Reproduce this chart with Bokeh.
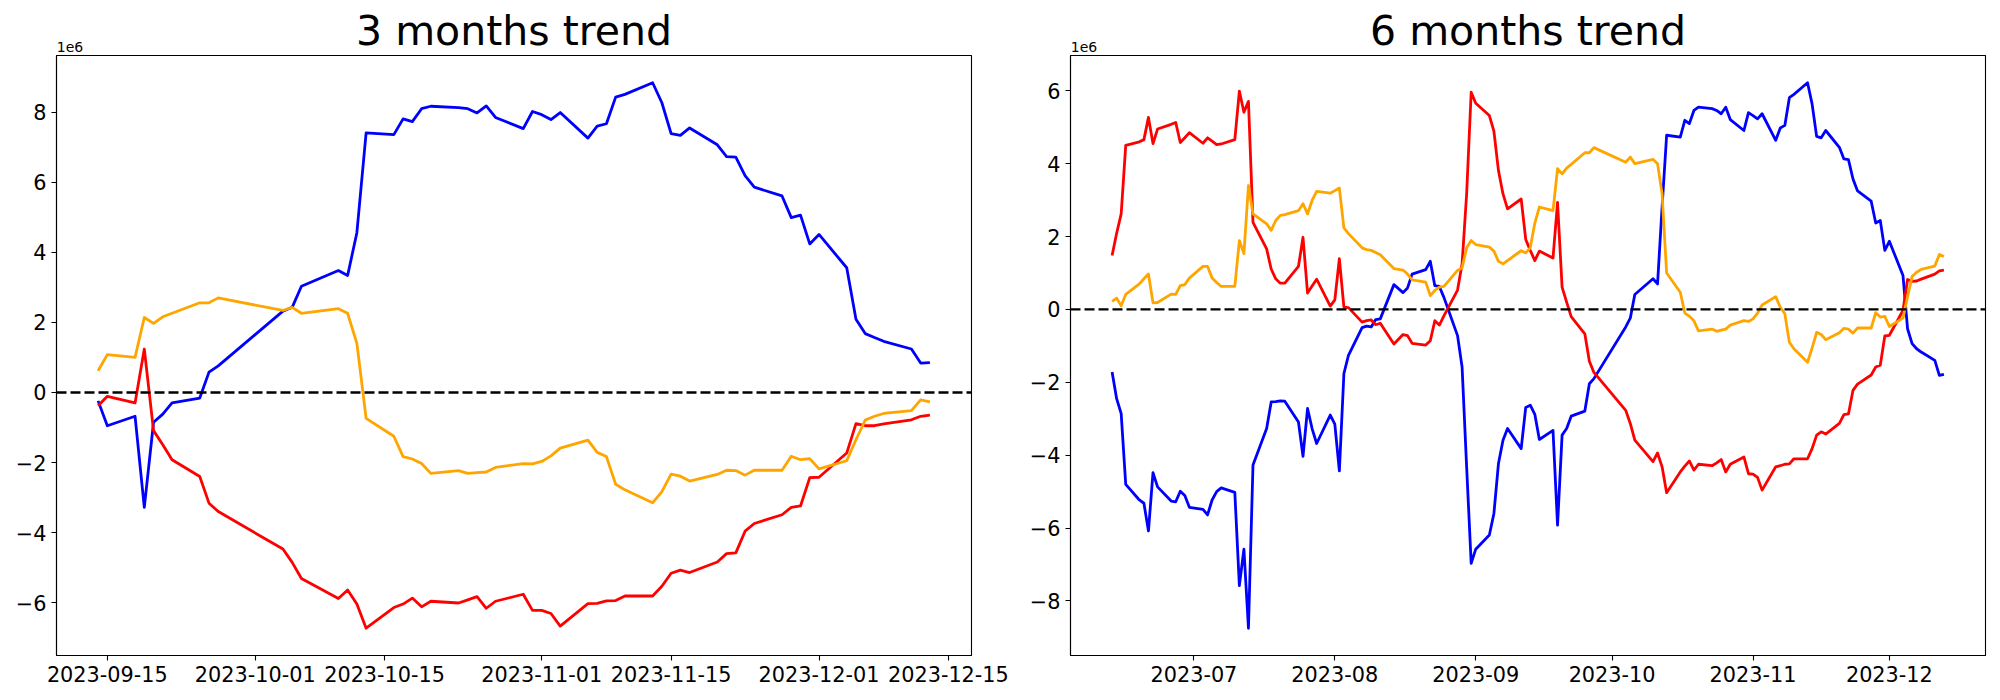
import pandas as pd
from bokeh.plotting import figure
from bokeh.layouts import row
from bokeh.models import (Range1d, FixedTicker, CustomJSTickFormatter, Span, LinearAxis,
                          ColumnDataSource)
from bokeh.embed import file_html
from bokeh.resources import INLINE

# ---------------- data (values in units of 1e6) ----------------
holidays = ["2023-08-15", "2023-09-28", "2023-09-29", "2023-10-02", "2023-10-03", "2023-10-09"]


def trading_days(start, end):
    d = pd.bdate_range(start, end)
    return d[~d.isin(pd.to_datetime(holidays))]


dates_3m = trading_days("2023-09-14", "2023-12-13")
dates_6m = trading_days("2023-06-13", "2023-12-13")

blue_3m = [-0.24, -0.95, -0.68, -3.28, -0.85, -0.62, -0.30, -0.16, 0.58, 0.76,
           2.32, 2.43, 3.03, 3.48, 3.34, 4.56, 7.41, 7.36, 7.81, 7.73, 8.10, 8.17, 8.13, 8.10,
           7.98, 8.18, 7.85, 7.53, 8.02,
           7.93, 7.79, 7.99, 7.26, 7.60, 7.67, 8.43, 8.51, 8.84, 8.27, 7.39, 7.34, 7.55, 7.07,
           6.73, 6.72, 6.19, 5.86, 5.61, 4.99, 5.06, 4.24,
           4.51, 3.56, 2.09, 1.68, 1.57, 1.46, 1.24, 0.84, 0.85]
red_3m = [-0.38, -0.11, -0.30, 1.24, -1.09, -1.49, -1.92, -2.40, -3.16, -3.40,
          -4.47, -4.85, -5.31, -5.88, -5.64, -6.04, -6.73, -6.14, -6.04, -5.87, -6.12, -5.96,
          -6.01, -5.92, -5.83, -6.16, -5.96, -5.76, -6.22,
          -6.22, -6.31, -6.67, -6.03, -6.02, -5.95, -5.94, -5.81, -5.81, -5.53, -5.16, -5.07,
          -5.14, -4.84, -4.60, -4.58, -3.96, -3.74, -3.49, -3.28, -3.24, -2.43,
          -2.42, -1.73, -0.89, -0.95, -0.95, -0.90, -0.78, -0.68, -0.65]
orange_3m = [0.62, 1.08, 1.00, 2.14, 1.97, 2.16, 2.26, 2.56, 2.56, 2.70,
             2.34, 2.43, 2.26, 2.39, 2.26, 1.40, -0.74, -1.25, -1.83, -1.90, -2.03, -2.31,
             -2.23, -2.31, -2.29, -2.27, -2.14, -2.03, -2.04,
             -1.97, -1.81, -1.59, -1.36, -1.71, -1.83, -2.62, -2.78, -3.15, -2.83, -2.33, -2.39,
             -2.53, -2.34, -2.22, -2.23, -2.36, -2.22, -2.22, -1.82, -1.92, -1.89,
             -2.18, -1.95, -1.35, -0.79, -0.68, -0.60, -0.52, -0.21, -0.27]

blue_6m = [-1.72, -2.45, -2.86, -4.80, -5.23, -5.32, -6.08, -4.48, -4.87, -5.26, -5.28, -4.99, -5.11, -5.43,
           -5.49, -5.64, -5.23, -5.00, -4.90, -5.02, -7.58, -6.58, -8.75, -4.27, -3.27, -2.54, -2.53,
           -2.51, -2.52, -3.09, -4.03, -2.72, -3.27, -3.68, -2.90,
           -3.15, -4.43, -1.76, -1.26, -0.50, -0.46, -0.48, -0.28, -0.26, 0.68, 0.46, 0.59, 0.97,
           1.09, 1.32, 0.65, 0.63, 0.33, -0.72, -1.58, -4.32, -6.97,
           -6.58, -6.19, -5.60, -4.23, -3.59, -3.27, -3.82, -2.69, -2.63, -2.88, -3.57, -3.32,
           -5.92, -3.45, -3.27, -2.93, -2.79, -2.04, -1.90,
           -0.48, -0.24, 0.41, 0.84, 0.70, 2.81, 4.78, 4.73, 5.19, 5.10, 5.46, 5.55, 5.51, 5.46,
           5.37, 5.55, 5.21, 4.91, 5.40,
           5.32, 5.23, 5.37, 4.64, 4.98, 5.05, 5.81, 5.90, 6.22, 5.64, 4.75, 4.71, 4.91, 4.45,
           4.13, 4.11, 3.58, 3.25, 2.97, 2.37, 2.44, 1.62,
           1.87, 0.93, -0.53, -0.94, -1.08, -1.17, -1.40, -1.81, -1.78]
red_6m = [1.48, 2.09, 2.62, 4.50, 4.60, 4.66, 5.27, 4.55, 4.95, 5.08, 5.13, 4.58, 4.71, 4.85,
          4.56, 4.71, 4.62, 4.52, 4.54, 4.66, 5.99, 5.41, 5.71, 2.39, 1.66, 1.11, 0.84, 0.72, 0.72,
          1.18, 1.98, 0.45, 0.64, 0.83, 0.09,
          0.26, 1.39, 0.06, 0.05, -0.35, -0.31, -0.29, -0.42, -0.38, -0.95, -0.69, -0.72, -0.93,
          -0.98, -0.86, -0.31, -0.43, -0.18, 0.53, 1.25, 3.17, 5.96,
          5.66, 5.32, 4.89, 3.81, 3.17, 2.76, 3.03, 1.92, 1.62, 1.34, 1.60, 1.41, 2.94, 0.61,
          0.20, -0.20, -0.67, -1.42, -1.73,
          -2.77, -3.13, -3.59, -4.18, -3.94, -4.32, -5.03, -4.46, -4.30, -4.16, -4.41, -4.25,
          -4.29, -4.21, -4.12, -4.46, -4.25, -4.05, -4.51,
          -4.52, -4.61, -4.96, -4.32, -4.29, -4.25, -4.24, -4.10, -4.10, -3.82, -3.45, -3.36,
          -3.42, -3.13, -2.89, -2.87, -2.22, -2.05, -1.80, -1.58, -1.53, -0.73,
          -0.71, -0.03, 0.82, 0.77, 0.78, 0.83, 0.97, 1.06, 1.08]
orange_6m = [0.22, 0.31, 0.10, 0.41, 0.70, 0.84, 0.97, 0.18, 0.19, 0.42, 0.41, 0.65, 0.68, 0.86,
             1.18, 1.18, 0.86, 0.74, 0.63, 0.63, 1.89, 1.53, 3.40, 2.62, 2.35, 2.17, 2.44, 2.58,
             2.60, 2.71, 2.90, 2.62, 2.99, 3.24, 3.19,
             3.26, 3.33, 2.24, 2.08, 1.69, 1.64, 1.62, 1.56, 1.50, 1.12, 1.08, 0.97, 0.81, 0.75,
             0.38, 0.52, 0.61, 0.63, 1.07, 1.14, 1.69, 1.89,
             1.78, 1.71, 1.60, 1.32, 1.25, 1.34, 1.61, 1.55, 1.69, 2.37, 2.81, 2.71, 3.86, 3.72,
             3.88, 3.98, 4.30, 4.30, 4.44,
             4.04, 4.18, 4.00, 4.12, 4.00, 3.17, 1.00, 0.47, -0.10, -0.19, -0.31, -0.59, -0.54,
             -0.60, -0.57, -0.54, -0.43, -0.31, -0.33,
             -0.26, -0.10, 0.12, 0.35, 0.06, -0.12, -0.90, -1.08, -1.45, -1.06, -0.63, -0.69,
             -0.83, -0.64, -0.52, -0.54, -0.65, -0.51, -0.51, -0.09, -0.21, -0.19,
             -0.47, -0.24, 0.35, 0.90, 1.02, 1.10, 1.19, 1.51, 1.45]

xticks_3m = ["2023-09-15", "2023-10-01", "2023-10-15", "2023-11-01", "2023-11-15", "2023-12-01", "2023-12-15"]
xticks_6m = ["2023-07-01", "2023-08-01", "2023-09-01", "2023-10-01", "2023-11-01", "2023-12-01"]
yticks_3m = [-6, -4, -2, 0, 2, 4, 6, 8]
yticks_6m = [-8, -6, -4, -2, 0, 2, 4, 6]

FONT = "DejaVu Sans"
FRAME_W = 915


def ms(ts):
    return pd.Timestamp(ts).value / 1e6


def panel(title, dates, blue, red, orange, xticks, nchars, yticks, b_left, b_right):
    x0, x1 = ms(dates[0]), ms(dates[-1])
    xm = (x1 - x0) * 0.05
    allv = blue + red + orange
    y0, y1 = min(allv), max(allv)
    ymg = (y1 - y0) * 0.05
    xs, xe = x0 - xm, x1 + xm
    p = figure(x_axis_type="datetime", frame_width=FRAME_W, frame_height=600,
               min_border_left=b_left, min_border_right=b_right,
               min_border_top=55, min_border_bottom=44,
               x_range=Range1d(xs, xe), y_range=Range1d(y0 - ymg, y1 + ymg),
               output_backend="svg", toolbar_location=None)
    p.xgrid.visible = False
    p.ygrid.visible = False
    p.outline_line_color = "black"
    p.outline_line_width = 1.1
    p.background_fill_color = "white"
    p.border_fill_color = "white"

    for ax in (p.xaxis[0], p.yaxis[0]):
        ax.axis_line_width = 1.1
        ax.major_tick_in = 0
        ax.major_tick_out = 5
        ax.major_tick_line_width = 1.1
        ax.minor_tick_in = 0
        ax.minor_tick_out = 0
        ax.major_label_text_font = FONT
        ax.major_label_text_font_size = "20.8px"
        ax.major_label_text_color = "black"
        ax.major_label_standoff = 5

    p.xaxis.ticker = FixedTicker(ticks=[ms(t) for t in xticks])
    p.xaxis.formatter = CustomJSTickFormatter(
        code="return new Date(tick).toISOString().slice(0, %d);" % nchars)
    p.yaxis.ticker = FixedTicker(ticks=yticks)
    p.yaxis.formatter = CustomJSTickFormatter(
        code="return tick < 0 ? '\u2212' + Math.abs(tick) : String(tick);")

    for vals, col in ((blue, "blue"), (red, "red"), (orange, "orange")):
        src = ColumnDataSource(dict(date=list(dates), v=vals))
        p.line("date", "v", source=src, line_color=col, line_width=2.8, line_join="round")

    p.add_layout(Span(location=0, dimension="width", line_color="black",
                      line_dash="10 4", line_width=2.4))

    # top axis: carries the "1e6" offset text (as its single tick label) and the title
    px_ms = (xe - xs) / FRAME_W
    top = LinearAxis(ticker=FixedTicker(ticks=[xs + 13.5 * px_ms]),
                     formatter=CustomJSTickFormatter(code="return '1e6';"),
                     axis_line_color=None, major_tick_line_color=None,
                     minor_tick_line_color=None,
                     major_tick_in=0, major_tick_out=0, minor_tick_in=0, minor_tick_out=0,
                     major_label_standoff=4, major_label_text_font=FONT,
                     major_label_text_font_size="14px", major_label_text_color="black",
                     axis_label=title, axis_label_text_font=FONT,
                     axis_label_text_font_size="41px", axis_label_text_font_style="normal",
                     axis_label_text_color="black", axis_label_standoff=-16)
    p.add_layout(top, "above")
    return p


p1 = panel("3 months trend", dates_3m, blue_3m, red_3m, orange_3m, xticks_3m, 10, yticks_3m, 56, 47)
p2 = panel("6 months trend", dates_6m, blue_6m, red_6m, orange_6m, xticks_6m, 7, yticks_6m, 52, 14)

layout = row(p1, p2, spacing=0)
open("out.html", "w").write(file_html(layout, INLINE))
